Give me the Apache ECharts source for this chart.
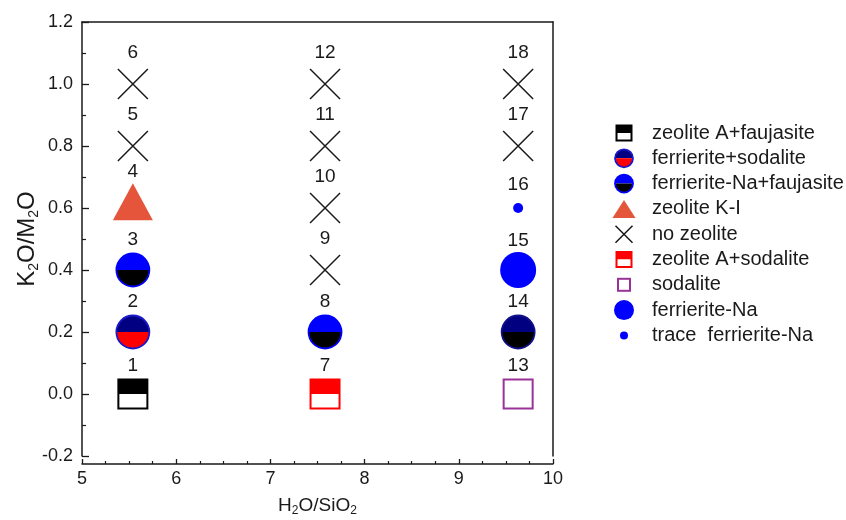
<!DOCTYPE html>
<html>
<head>
<meta charset="utf-8">
<script src="https://cdn.jsdelivr.net/npm/echarts@6/dist/echarts.min.js"></script>
<style>
  html, body { margin: 0; padding: 0; background: #fff; }
  #chart { width: 846px; height: 520px; }
</style>
</head>
<body>
<div id="chart"></div>
<script>
// Phase names, in legend order
const phases = [
  'zeolite A+faujasite',
  'ferrierite+sodalite',
  'ferrierite-Na+faujasite',
  'zeolite K-I',
  'no zeolite',
  'zeolite A+sodalite',
  'sodalite',
  'ferrierite-Na',
  'trace  ferrierite-Na'
];

// Synthesis runs: number, H2O/SiO2, K2O/M2O and the phase index obtained
const runNo   = [1, 2, 3, 4, 5, 6, 7, 8, 9, 10, 11, 12, 13, 14, 15, 16, 17, 18];
const h2oSio2 = [5.54, 5.54, 5.54, 5.54, 5.54, 5.54,
                 7.58, 7.58, 7.58, 7.58, 7.58, 7.58,
                 9.63, 9.63, 9.63, 9.63, 9.63, 9.63];
const k2oM2o  = [0.0, 0.2, 0.4, 0.6, 0.8, 1.0,
                 0.0, 0.2, 0.4, 0.6, 0.8, 1.0,
                 0.0, 0.2, 0.4, 0.6, 0.8, 1.0];
const phaseOf = [0, 1, 2, 3, 4, 4,
                 5, 2, 4, 4, 4, 4,
                 6, 2, 7, 8, 4, 4];

// Axis ticks
const xTicks = { min: 5, max: 10, step: 1 };
const yTicks = { min: -0.2, max: 1.2, step: 0.2 };

// ---------- symbol drawing (SVG images) ----------
const FONT = '"Liberation Sans", Arial, sans-serif';
const INK = '#1a1a1a';
const BLUE = '#0000ff', NAVY = '#000080', RED = '#ff0000', ORANGE = '#e4553b', PURPLE = '#993399';

const toImage = body => (w, h) => 'image://data:image/svg+xml;charset=utf-8,' + encodeURIComponent(
  `<svg xmlns="http://www.w3.org/2000/svg" width="${w}" height="${h}" viewBox="0 0 ${w} ${h}">${body}</svg>`);

function halfSquare(cx, cy, w, h, top, bottom, stroke) {
  const s = w - 2, x = cx - s / 2, y = cy - s / 2;
  return `<rect x="${x}" y="${y}" width="${s}" height="${s / 2}" fill="${top}"/>` +
         `<rect x="${x}" y="${y + s / 2}" width="${s}" height="${s / 2}" fill="${bottom}"/>` +
         `<rect x="${x}" y="${y}" width="${s}" height="${s}" fill="none" stroke="${stroke}" stroke-width="2"/>`;
}
function halfCircle(cx, cy, w, h, top, bottom, stroke) {
  const r = w / 2 - 1;
  return `<path d="M${cx - r},${cy} A${r},${r} 0 0 1 ${cx + r},${cy} Z" fill="${top}"/>` +
         `<path d="M${cx - r},${cy} A${r},${r} 0 0 0 ${cx + r},${cy} Z" fill="${bottom}"/>` +
         `<circle cx="${cx}" cy="${cy}" r="${r}" fill="none" stroke="${stroke}" stroke-width="1.8"/>`;
}
function disc(cx, cy, w, h, fill) {
  return `<circle cx="${cx}" cy="${cy}" r="${w / 2}" fill="${fill}"/>`;
}
// triangle anchored on its centroid
function triangle(cx, cy, w, h, fill) {
  return `<polygon points="${cx},${cy - 2 * h / 3} ${cx + w / 2},${cy + h / 3} ${cx - w / 2},${cy + h / 3}" fill="${fill}"/>`;
}
function cross(cx, cy, w, h, stroke) {
  const a = w / 2;
  return `<path d="M${cx - a},${cy - a} L${cx + a},${cy + a} M${cx + a},${cy - a} L${cx - a},${cy + a}" stroke="${stroke}" stroke-width="1.5" fill="none"/>`;
}
function openSquare(cx, cy, w, h, stroke) {
  const s = w - 2;
  return `<rect x="${cx - s / 2}" y="${cy - s / 2}" width="${s}" height="${s}" fill="#fff" stroke="${stroke}" stroke-width="2"/>`;
}

// How each phase is drawn: shape, plot size, legend size, label lift above the mark
const phaseLook = [
  { draw: (x, y, w, h) => halfSquare(x, y, w, h, '#000', '#fff', '#000'), plot: [31, 31], leg: [17, 17], lift: 28 },
  { draw: (x, y, w, h) => halfCircle(x, y, w, h, NAVY, RED, '#1a1acc'),   plot: [35, 35], leg: [20, 20], lift: 30 },
  { draw: (x, y, w, h) => halfCircle(x, y, w, h, BLUE, '#000', BLUE),     plot: [35, 35], leg: [20, 20], lift: 30 },
  { draw: (x, y, w, h) => triangle(x, y, w, h, ORANGE),                   plot: [40, 37], leg: [23, 18], lift: 36, center: true },
  { draw: (x, y, w, h) => cross(x, y, w, h, INK),                         plot: [30, 30], leg: [17, 17], lift: 31 },
  { draw: (x, y, w, h) => halfSquare(x, y, w, h, RED, '#fff', RED),       plot: [31, 31], leg: [17, 17], lift: 28 },
  { draw: (x, y, w, h) => openSquare(x, y, w, h, PURPLE),                 plot: [31, 31], leg: [14, 14], lift: 28 },
  { draw: (x, y, w, h) => disc(x, y, w, h, BLUE),                         plot: [36, 36], leg: [20, 20], lift: 29 },
  { draw: (x, y, w, h) => disc(x, y, w, h, BLUE),                         plot: [10, 10], leg: [8, 8],   lift: 23 }
];
// Run 14 was drawn with a darker top half
const runLook = {
  14: { draw: (x, y, w, h) => halfCircle(x, y, w, h, NAVY, '#000', '#10108a') }
};

const PAD = 4;
function plotSymbol(look) {
  const [w, h] = look.plot;
  // the triangle's canvas is tall enough to keep its centroid in the middle
  const W = w + PAD, H = (look.center ? 4 * h / 3 : h) + PAD;
  return { symbol: toImage(look.draw(W / 2, H / 2, w, h))(W, H), size: [W, H] };
}
function legendIcon(look) {
  const [w, h] = look.leg;
  const cy = look.center ? 11 + h / 6 : 11;
  return toImage(look.draw(15, cy, w, h))(38, 22);
}

// ---------- series ----------
const series = phases.map((name, p) => {
  const look = phaseLook[p];
  const base = plotSymbol(look);
  const data = [];
  runNo.forEach((n, i) => {
    if (phaseOf[i] !== p) return;
    const item = { value: [h2oSio2[i], k2oM2o[i], n] };
    if (runLook[n]) {
      const alt = plotSymbol(Object.assign({}, look, runLook[n]));
      item.symbol = alt.symbol;
    }
    data.push(item);
  });
  return {
    name,
    type: 'scatter',
    symbol: base.symbol,
    symbolSize: base.size,
    itemStyle: { opacity: 1 },
    data,
    label: {
      show: true,
      position: 'inside',
      offset: [0, -look.lift],
      formatter: d => String(d.value[2]),
      color: INK,
      fontSize: 19,
      fontFamily: FONT
    },
    emphasis: { disabled: true }
  };
});

const axisLine = { show: true, onZero: false, lineStyle: { color: INK, width: 1.5 } };

const chart = echarts.init(document.getElementById('chart'), null, { renderer: 'canvas' });
chart.setOption({
  animation: false,
  backgroundColor: '#fff',
  grid: { left: 82, right: 293, top: 22, bottom: 64, containLabel: false, outerBoundsMode: 'none' },
  xAxis: [
    {
      type: 'value', min: xTicks.min, max: xTicks.max, interval: xTicks.step,
      position: 'bottom', offset: 8,
      axisLine,
      axisTick: { show: true, inside: true, length: 5, lineStyle: { color: INK, width: 1.3 } },
      minorTick: { show: true, splitNumber: 4, length: 3, lineStyle: { color: INK, width: 1.2 } },
      splitLine: { show: false },
      axisLabel: { color: INK, fontSize: 18, fontFamily: FONT, margin: 6 },
      name: '{a|H}{b|2}{a|O/SiO}{b|2}',
      nameLocation: 'middle', nameGap: 30, nameMoveOverlap: false,
      nameTextStyle: {
        rich: {
          a: { fontSize: 19, color: INK, fontFamily: FONT },
          b: { fontSize: 12, color: INK, fontFamily: FONT, padding: [11, 0, 0, 0] }
        }
      }
    },
    {
      type: 'value', min: xTicks.min, max: xTicks.max, position: 'top',
      axisLine, axisTick: { show: false }, axisLabel: { show: false }, splitLine: { show: false }
    }
  ],
  yAxis: [
    {
      type: 'value', min: yTicks.min, max: yTicks.max, interval: yTicks.step,
      position: 'left',
      axisLine,
      axisTick: { show: true, inside: true, length: 7, lineStyle: { color: INK, width: 1.3 } },
      minorTick: { show: true, splitNumber: 2, length: 4, lineStyle: { color: INK, width: 1.2 } },
      splitLine: { show: false },
      axisLabel: {
        color: INK, fontSize: 18, fontFamily: FONT, margin: 9,
        formatter: v => (Math.abs(v) < 1e-9 ? 0 : v).toFixed(1)
      },
      name: '{a|K}{b|2}{a|O/M}{b|2}{a|O}',
      nameLocation: 'middle', nameGap: 41, nameRotate: 90, nameMoveOverlap: false,
      nameTextStyle: {
        rich: {
          a: { fontSize: 24, color: INK, fontFamily: FONT },
          b: { fontSize: 14, color: INK, fontFamily: FONT, padding: [13, 0, 0, 0] }
        }
      }
    },
    {
      type: 'value', min: yTicks.min, max: yTicks.max, position: 'right',
      axisLine, axisTick: { show: false }, axisLabel: { show: false }, splitLine: { show: false }
    }
  ],
  legend: {
    orient: 'vertical',
    left: 604, top: 117,
    itemWidth: 38, itemHeight: 22, itemGap: 3.3,
    selectedMode: false,
    textStyle: { color: INK, fontSize: 20, fontFamily: FONT },
    data: phases.map((name, p) => ({ name, icon: legendIcon(phaseLook[p]) }))
  },
  series
});
</script>
</body>
</html>
